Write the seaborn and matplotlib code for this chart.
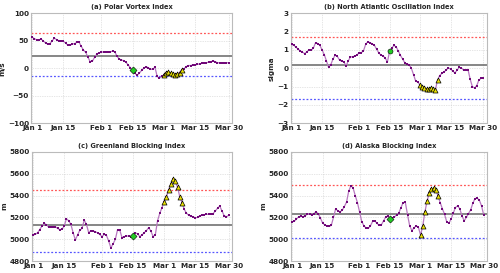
import numpy as np
import pandas as pd
import matplotlib
matplotlib.use("Agg")
import matplotlib.pyplot as plt
import seaborn as sns

# eixo de datas (dias desde 1 jan)
tick_days = [0, 14, 31, 45, 59, 73, 88]
tick_labels = ["Jan 1", "Jan 15", "Feb 1", "Feb 15", "Mar 1", "Mar 15", "Mar 30"]

# (a) Polar Vortex Index, m/s
polar = [57, 54, 52, 52, 53, 50, 46, 44, 45, 50, 55, 52, 50, 50, 49, 46, 42, 42, 44, 45,
         47, 48, 40, 33, 29, 20, 12, 13, 20, 26, 28, 29, 30, 30, 30, 30, 31, 30, 22, 17,
         15, 14, 11, 6, 1, -4, -9, -13, -9, -4, 0, 3, 1, -2, -2, 2, -15, -18, -15, -12,
         -8, -6, -9, -11, -12, -10, -8, -3, -1, 3, 5, 5, 6, 6, 7, 8, 9, 9, 10, 11,
         12, 13, 12, 10, 10, 9, 9, 10, 10]
polar_ref = [23, 65, -15]  # media, limite sup, limite inf

# (b) North Atlantic Oscillation Index, sigma
nao = [1.30, 1.26, 1.15, 1.05, 0.95, 0.88, 0.80, 0.90, 1.00, 0.99, 1.10, 1.40, 1.35, 1.25, 1.00,
       0.75, 0.40, 0.05, 0.20, 0.50, 0.72, 0.65, 0.45, 0.38, 0.36, 0.12, 0.40, 0.62, 0.63, 0.66,
       0.72, 0.84, 0.85, 0.95, 1.30, 1.45, 1.40, 1.33, 1.26, 1.05, 0.85, 0.72, 0.68, 0.55, 0.35,
       0.92, 1.10, 1.25, 1.17, 0.95, 0.70, 0.50, 0.30, 0.22, 0.20, 0.00, -0.35, -0.71, -0.75, -0.93,
       -1.00, -1.08, -1.15, -1.12, -1.10, -1.15, -1.20, -0.65, -0.40, -0.28, -0.20, -0.10, 0.02, -0.05, -0.15,
       -0.26, -0.10, 0.05, 0.02, -0.11, -0.10, -0.07, -0.60, -1.00, -1.08, -0.95, -0.65, -0.55, -0.52]
nao_ref = [0.2, 1.7, -1.68]

# (c) Greenland Blocking Index, m
greenland = [5040, 5046, 5060, 5090, 5122, 5146, 5134, 5112, 5110, 5112, 5116, 5100, 5089, 5092, 5122,
             5189, 5170, 5137, 5061, 4995, 5040, 5083, 5100, 5176, 5137, 5061, 5080, 5076, 5070, 5060,
             5045, 5025, 5046, 5037, 4985, 4922, 4960, 5000, 5089, 5085, 5016, 5025, 5031, 5030, 5022,
             5031, 5061, 5050, 5025, 5040, 5061, 5080, 5107, 5076, 5025, 5043, 5171, 5238, 5290, 5344,
             5390, 5450, 5505, 5550, 5535, 5475, 5390, 5335, 5274, 5240, 5220, 5213, 5205, 5198, 5200,
             5215, 5222, 5225, 5230, 5228, 5235, 5235, 5259, 5285, 5304, 5259, 5215, 5207, 5219]
greenland_ref = [5130, 5450, 4885]

# (d) Alaska Blocking Index, m
alaska = [5161, 5165, 5185, 5206, 5212, 5206, 5218, 5228, 5236, 5222, 5236, 5251, 5235, 5195, 5150,
          5132, 5122, 5118, 5128, 5200, 5280, 5260, 5252, 5265, 5300, 5340, 5440, 5490, 5470, 5400,
          5336, 5250, 5161, 5124, 5103, 5100, 5125, 5165, 5170, 5145, 5130, 5133, 5170, 5205, 5215,
          5185, 5195, 5206, 5222, 5240, 5291, 5336, 5338, 5225, 5124, 5080, 5105, 5124, 5110, 5039,
          5124, 5251, 5352, 5421, 5458, 5467, 5455, 5397, 5336, 5280, 5230, 5161, 5148, 5185, 5239,
          5291, 5306, 5280, 5215, 5170, 5200, 5236, 5270, 5330, 5373, 5376, 5358, 5306, 5221]
alaska_ref = [5236, 5494, 5009]

# dias marcados
green_day = 45
event_days = list(range(59, 68))

paineis = [
    ("(a) Polar Vortex Index", "m/s", polar, polar_ref, (-100, 100), np.arange(-100, 101, 50), "D",
     [0.062, 0.549, 0.402, 0.402]),
    ("(b) North Atlantic Oscillation Index", "sigma", nao, nao_ref, (-3, 3), np.arange(-3, 4, 1), "o",
     [0.581, 0.549, 0.392, 0.402]),
    ("(c) Greenland Blocking Index", "m", greenland, greenland_ref, (4800, 5800), np.arange(4800, 5801, 200), "D",
     [0.064, 0.043, 0.400, 0.401]),
    ("(d) Alaska Blocking Index", "m", alaska, alaska_ref, (4800, 5800), np.arange(4800, 5801, 200), "D",
     [0.582, 0.043, 0.392, 0.401]),
]

sns.set_style("whitegrid")
plt.rcParams["font.family"] = ["DejaVu Sans"]

fig = plt.figure(figsize=(5.0, 2.73), dpi=100)

for titulo, unidade, valores, ref, ylim, yticks, gmark, pos in paineis:
    ax = fig.add_axes(pos)
    df = pd.DataFrame({"dia": np.arange(len(valores)), "valor": valores})
    media, sup, inf = ref

    ax.axhline(media, color="#666666", lw=1.1, zorder=2)
    ax.axhline(sup, color="#ff5555", lw=0.9, ls=(0, (1.5, 1.5)), zorder=2)
    ax.axhline(inf, color="#5555ff", lw=0.9, ls=(0, (1.5, 1.5)), zorder=2)

    sns.lineplot(data=df, x="dia", y="valor", ax=ax, color="#b878c0", lw=0.9, zorder=3)
    sns.scatterplot(data=df, x="dia", y="valor", ax=ax, color="#700878", marker="s",
                    s=3, linewidth=0, zorder=4)

    ev = df[df["dia"].isin(event_days)]
    sns.scatterplot(data=ev, x="dia", y="valor", ax=ax, color="#e8e000", marker="^",
                    s=13, edgecolor="black", linewidth=0.5, zorder=5)
    gr = df[df["dia"] == green_day]
    sns.scatterplot(data=gr, x="dia", y="valor", ax=ax, color="#22cc22", marker=gmark,
                    s=13, edgecolor="black", linewidth=0.4, zorder=5)

    ax.set_xlim(-0.5, 89.5)
    ax.set_ylim(*ylim)
    ax.set_xticks(tick_days)
    ax.set_xticklabels(tick_labels)
    ax.set_yticks(yticks)
    ax.tick_params(axis="both", labelsize=5.2, length=0, pad=1.5)
    for lab in ax.get_xticklabels() + ax.get_yticklabels():
        lab.set_fontweight("bold")
    ax.set_xlabel("")
    ax.set_ylabel(unidade, fontsize=5.2, fontweight="bold", labelpad=2)
    ax.set_title(titulo, fontsize=4.8, fontweight="bold", pad=3)
    ax.grid(True, color="#cccccc", ls=(0, (1, 1.5)), lw=0.5)
    for sp in ax.spines.values():
        sp.set_color("#bbbbbb")
        sp.set_linewidth(0.8)

fig.savefig("out.png", dpi=100)
